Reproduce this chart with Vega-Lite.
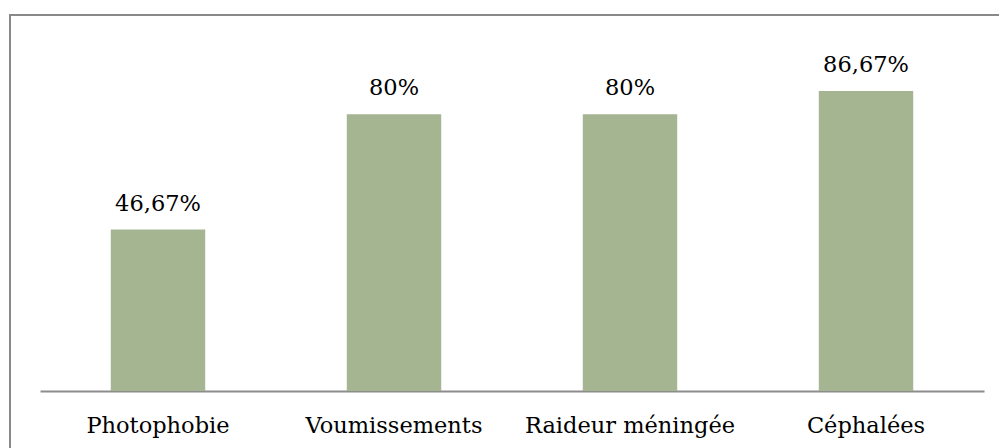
{
  "$schema": "https://vega.github.io/schema/vega-lite/v6.json",
  "width": 1000,
  "height": 450,
  "padding": {"left": 10, "top": 15, "right": 0, "bottom": 0},
  "autosize": {"type": "none"},
  "background": "white",
  "config": {"view": {"stroke": "#898989", "strokeWidth": 2}, "font": "DejaVu Serif"},
  "data": {"values": [
    {"symptome": "Photophobie", "pct": 46.67, "label": "46,67%"},
    {"symptome": "Voumissements", "pct": 80, "label": "80%"},
    {"symptome": "Raideur méningée", "pct": 80, "label": "80%"},
    {"symptome": "Céphalées", "pct": 86.67, "label": "86,67%"}
  ]},
  "encoding": {
    "x": {
      "field": "symptome", "type": "nominal", "sort": null,
      "scale": {"range": [30, 974], "paddingInner": 0, "paddingOuter": 0},
      "axis": {"title": null, "offset": -74, "ticks": false, "domainColor": "#8c8c8c", "domainWidth": 2, "labelFontSize": 22.5, "labelLimit": 0, "labelColor": "#000000", "labelPadding": 23, "labelAngle": 0, "labelFont": "DejaVu Serif", "grid": false}
    },
    "y": {"field": "pct", "type": "quantitative", "scale": {"domain": [0, 100], "range": [376, 30]}, "axis": null}
  },
  "layer": [
    {"mark": {"type": "bar", "color": "#A5B592", "width": {"band": 0.4}}},
    {"mark": {"type": "text", "baseline": "alphabetic", "dy": -19, "fontSize": 22.5, "color": "#000000", "font": "DejaVu Serif"}, "encoding": {"text": {"field": "label"}}}
  ]
}
